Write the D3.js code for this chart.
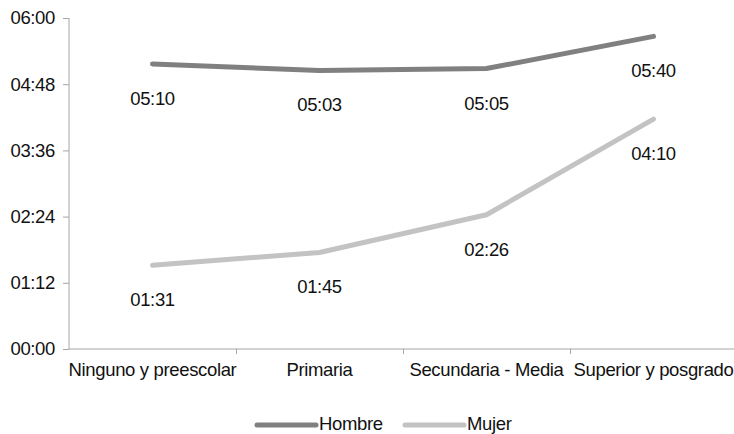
<!DOCTYPE html>
<html><head><meta charset="utf-8">
<script src="https://cdn.jsdelivr.net/npm/d3@7"></script>
<style>body{margin:0;background:#fff}text{font-family:"Liberation Sans",Arial,sans-serif;fill:#111;letter-spacing:-0.35px}</style>
</head><body><svg id="c" width="734" height="434"></svg>
<script>
const categories = ["Ninguno y preescolar","Primaria","Secundaria - Media","Superior y posgrado"];
const hombre = [310, 303, 305, 340]; // minutes
const mujer = [91, 105, 146, 250];
const yTicks = [0, 72, 144, 216, 288, 360];
const seriesNames = ["Hombre","Mujer"];
const colors = ["#808080","#c3c3c3"];

const fs = "18.5px";
const fmt = m => String(Math.floor(m/60)).padStart(2,"0")+":"+String(Math.round(m%60)).padStart(2,"0");
const svg = d3.select("#c");
const x = d3.scaleBand().domain(categories).range([69, 737]);
const y = d3.scaleLinear().domain([0, 360]).range([349, 18]);
const axisColor = "#a6a6a6";

const yAxis = svg.append("g").attr("transform","translate(69,0)")
  .call(d3.axisLeft(y).tickValues(yTicks).tickFormat(fmt).tickSize(6).tickPadding(8));
yAxis.selectAll("path,line").attr("stroke",axisColor);
yAxis.select("path").attr("d","M0,18V349");
yAxis.selectAll("text").style("font-size",fs).attr("fill","#111");

const xAxis = svg.append("g").attr("transform","translate(0,349)")
  .call(d3.axisBottom(x).tickSize(0).tickPadding(14));
xAxis.select("path").attr("stroke",axisColor).attr("d","M69,0H737");
xAxis.selectAll("text").style("font-size",fs).attr("fill","#111");
// boundary ticks
svg.append("g").selectAll("line").data(categories.slice(1)).join("line")
  .attr("x1",d=>Math.round(x(d))+0.5).attr("x2",d=>Math.round(x(d))+0.5)
  .attr("y1",349).attr("y2",354).attr("stroke",axisColor);

const line = d3.line().x((d,i)=>x(categories[i])+x.bandwidth()/2).y(d=>y(d));
[hombre, mujer].forEach((s,k)=>{
  svg.append("path").attr("d",line(s)).attr("fill","none").attr("stroke",colors[k])
    .attr("stroke-width",5).attr("stroke-linecap","round").attr("stroke-linejoin","round");
  svg.append("g").selectAll("text").data(s).join("text")
    .attr("x",(d,i)=>x(categories[i])+x.bandwidth()/2)
    .attr("y",d=>y(d)+41).attr("text-anchor","middle").style("font-size",fs)
    .text(d=>fmt(d));
});

// legend
const leg = [{x:257},{x:405}];
seriesNames.forEach((n,k)=>{
  const g = svg.append("g").attr("transform",`translate(${leg[k].x},425)`);
  g.append("line").attr("x1",0).attr("x2",59).attr("y1",0).attr("y2",0)
    .attr("stroke",colors[k]).attr("stroke-width",5).attr("stroke-linecap","round");
  g.append("text").attr("x",62).attr("y",5).style("font-size",fs).text(n);
});
</script></body></html>
